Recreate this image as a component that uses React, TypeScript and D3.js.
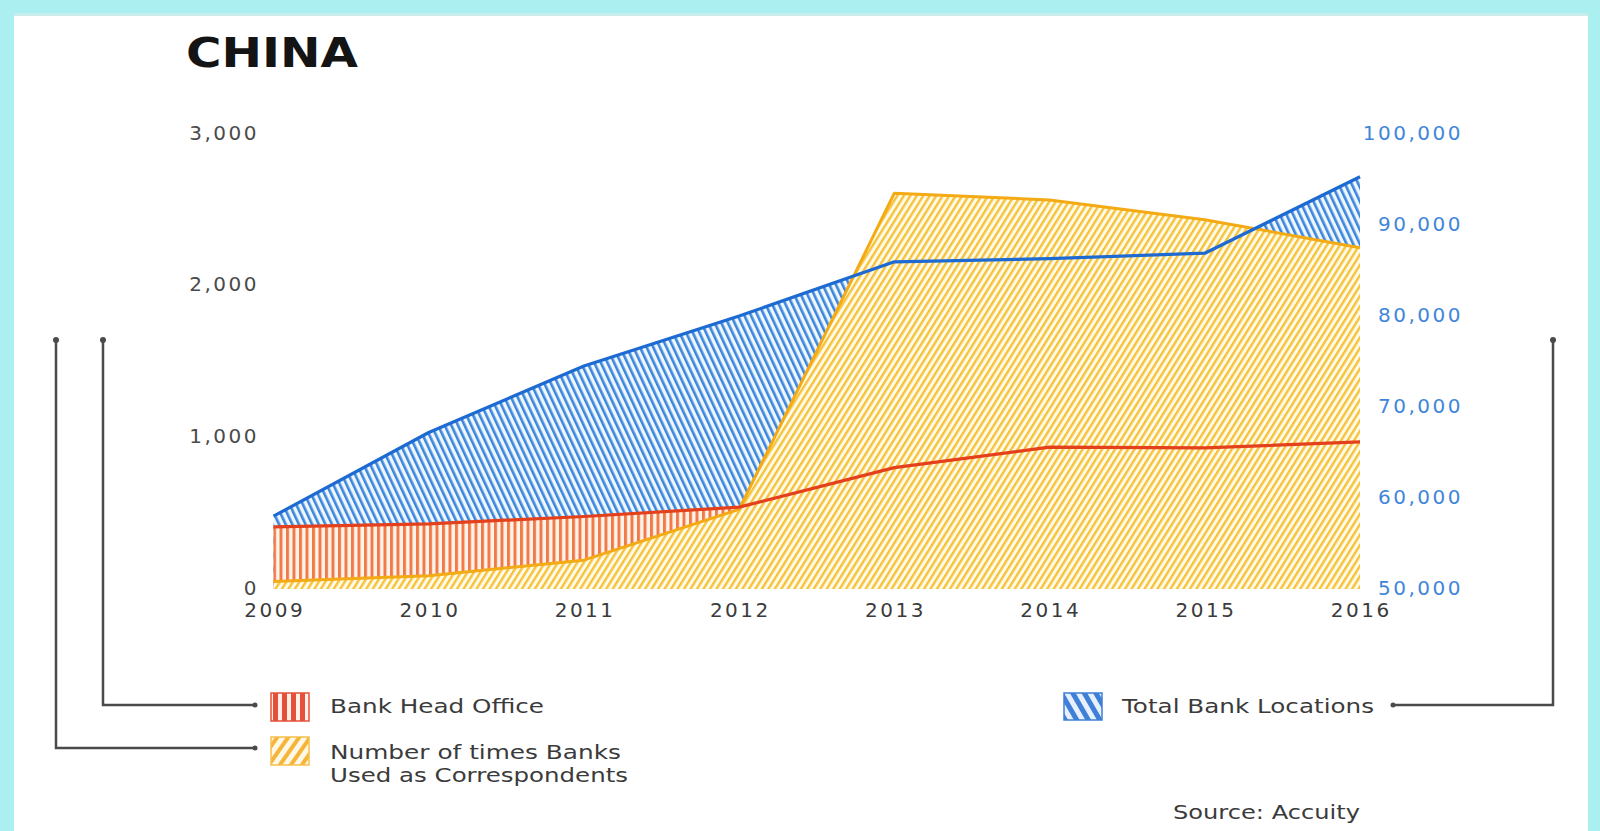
import React from 'react';
import * as d3 from 'd3';

const years = [2009, 2010, 2011, 2012, 2013, 2014, 2015, 2016];
const headOffice = [410, 430, 478, 540, 800, 935, 930, 970];
const correspondents = [50, 88, 190, 525, 2610, 2565, 2435, 2250];
const totalLocations = [58000, 67200, 74500, 80000, 85950, 86300, 86900, 95300];
const leftTicks = [0, 1000, 2000, 3000];
const rightTicks = [50000, 60000, 70000, 80000, 90000, 100000];

const FONT = "'DejaVu Sans', 'Open Sans', sans-serif";

export default function App() {
  const W = 1600;
  const H = 831;
  const x = d3.scaleLinear().domain([2009, 2016]).range([273.5, 1360]);
  const yL = d3.scaleLinear().domain([0, 3000]).range([589, 134]);
  const yR = d3.scaleLinear().domain([50000, 100000]).range([589, 134]);
  const fmt = d3.format(',');

  const areaGen = (vals: number[], y: d3.ScaleLinear<number, number>, base: number) =>
    d3
      .area<number>()
      .x((_, i) => x(years[i]))
      .y0(y(base))
      .y1((d) => y(d))(vals) as string;
  const lineGen = (vals: number[], y: d3.ScaleLinear<number, number>) =>
    d3
      .line<number>()
      .x((_, i) => x(years[i]))
      .y((d) => y(d))(vals) as string;

  const textCol = '#3b3b3b';
  const bracket = '#4a4a4a';

  return (
    <svg
      width={W}
      height={H}
      viewBox={`0 0 ${W} ${H}`}
      style={{ position: 'absolute', left: 0, top: 0, display: 'block' }}
    >
      <defs>
        <pattern id="pBlue" width="6" height="6" patternUnits="userSpaceOnUse" patternTransform="rotate(-25)">
          <rect width="6" height="6" fill="#eef6fe" />
          <rect width="2.6" height="6" fill="#3c86dc" />
        </pattern>
        <pattern id="pRed" width="6.5" height="6" patternUnits="userSpaceOnUse">
          <rect width="6.5" height="6" fill="#fff3ea" />
          <rect width="3" height="6" fill="#f07a48" />
        </pattern>
        <pattern id="pYellow" width="5.5" height="6" patternUnits="userSpaceOnUse" patternTransform="rotate(32)">
          <rect width="5.5" height="6" fill="#fffbea" />
          <rect width="2.4" height="6" fill="#f6c23a" />
        </pattern>
        <pattern id="lgBlue" width="10" height="10" patternUnits="userSpaceOnUse" patternTransform="rotate(-30)">
          <rect width="10" height="10" fill="#e6f1fd" />
          <rect width="5" height="10" fill="#3f7fd6" />
        </pattern>
        <pattern id="lgRed" width="9" height="10" patternUnits="userSpaceOnUse" patternTransform="translate(273,0)">
          <rect width="9" height="10" fill="#fff0ea" />
          <rect width="5" height="10" fill="#e5503a" />
        </pattern>
        <pattern id="lgYellow" width="9" height="10" patternUnits="userSpaceOnUse" patternTransform="rotate(35)">
          <rect width="9" height="10" fill="#fff8e4" />
          <rect width="4" height="10" fill="#f5b43a" />
        </pattern>
      </defs>

      {/* frame */}
      <rect x={0} y={0} width={W} height={H} fill="#abeff1" />
      <rect x={14} y={14} width={1574} height={H - 14} fill="#ffffff" />
      <rect x={14} y={13} width={1574} height={3} fill="#c9ecec" />

      {/* title */}
      <text
        x={186}
        y={67}
        fontFamily={FONT}
        fontWeight="bold"
        fontSize={40}
        fill="#141414"
        textLength={172}
        lengthAdjust="spacingAndGlyphs"
      >
        CHINA
      </text>

      {/* areas */}
      <path d={areaGen(totalLocations, yR, 50000)} fill="url(#pBlue)" />
      <path d={areaGen(headOffice, yL, 0)} fill="url(#pRed)" />
      <path d={areaGen(correspondents, yL, 0)} fill="url(#pYellow)" />

      {/* lines */}
      <path d={lineGen(correspondents, yL)} fill="none" stroke="#f4aa14" strokeWidth={3} strokeLinejoin="round" />
      <path d={lineGen(totalLocations, yR)} fill="none" stroke="#1d6bd2" strokeWidth={3.2} strokeLinejoin="round" />
      <path d={lineGen(headOffice, yL)} fill="none" stroke="#e4401c" strokeWidth={3.2} strokeLinejoin="round" />

      {/* left axis labels */}
      {leftTicks.map((t) => (
        <text
          key={'l' + t}
          x={259}
          y={yL(t)}
          textAnchor="end"
          dominantBaseline="middle"
          fontFamily={FONT}
          fontSize={20}
          letterSpacing={2.5}
          fill="#4a4a4a"
        >
          {fmt(t)}
        </text>
      ))}

      {/* right axis labels */}
      {rightTicks.map((t) => (
        <text
          key={'r' + t}
          x={1463}
          y={yR(t)}
          textAnchor="end"
          dominantBaseline="middle"
          fontFamily={FONT}
          fontSize={20}
          letterSpacing={2.5}
          fill="#3f86da"
        >
          {fmt(t)}
        </text>
      ))}

      {/* x labels */}
      {years.map((yv) => (
        <text
          key={'x' + yv}
          x={x(yv) + 1.2}
          y={611}
          textAnchor="middle"
          dominantBaseline="middle"
          fontFamily={FONT}
          fontSize={20}
          letterSpacing={2.5}
          fill="#3b3b3b"
        >
          {yv}
        </text>
      ))}

      {/* brackets */}
      <path d="M56,340 V748 H255" fill="none" stroke={bracket} strokeWidth={2.5} />
      <path d="M103,340 V705 H255" fill="none" stroke={bracket} strokeWidth={2.5} />
      <path d="M1553,340 V705 H1393" fill="none" stroke={bracket} strokeWidth={2.5} />
      <circle cx={56} cy={340} r={3} fill={bracket} />
      <circle cx={103} cy={340} r={3} fill={bracket} />
      <circle cx={1553} cy={340} r={3} fill={bracket} />
      <circle cx={255} cy={748} r={2.5} fill={bracket} />
      <circle cx={255} cy={705} r={2.5} fill={bracket} />
      <circle cx={1393} cy={705} r={2.5} fill={bracket} />

      {/* legend */}
      <rect x={271} y={693} width={38} height={28} fill="url(#lgRed)" stroke="#e5503a" strokeWidth={1.5} />
      <rect x={271} y={737} width={38} height={28} fill="url(#lgYellow)" stroke="#f5c04a" strokeWidth={1.5} />
      <rect x={1064} y={693} width={38} height={27} fill="url(#lgBlue)" stroke="#3f7fd6" strokeWidth={1.5} />

      <text x={330} y={707} dominantBaseline="middle" fontFamily={FONT} fontSize={20} fill={textCol} textLength={214} lengthAdjust="spacingAndGlyphs">
        Bank Head Office
      </text>
      <text x={330} y={753} dominantBaseline="middle" fontFamily={FONT} fontSize={20} fill={textCol} textLength={291} lengthAdjust="spacingAndGlyphs">
        Number of times Banks
      </text>
      <text x={330} y={776} dominantBaseline="middle" fontFamily={FONT} fontSize={20} fill={textCol} textLength={298} lengthAdjust="spacingAndGlyphs">
        Used as Correspondents
      </text>
      <text x={1122} y={707} dominantBaseline="middle" fontFamily={FONT} fontSize={20} fill={textCol} textLength={252} lengthAdjust="spacingAndGlyphs">
        Total Bank Locations
      </text>
      <text x={1173} y={813} dominantBaseline="middle" fontFamily={FONT} fontSize={20} fill={textCol} textLength={187} lengthAdjust="spacingAndGlyphs">
        Source: Accuity
      </text>
    </svg>
  );
}
